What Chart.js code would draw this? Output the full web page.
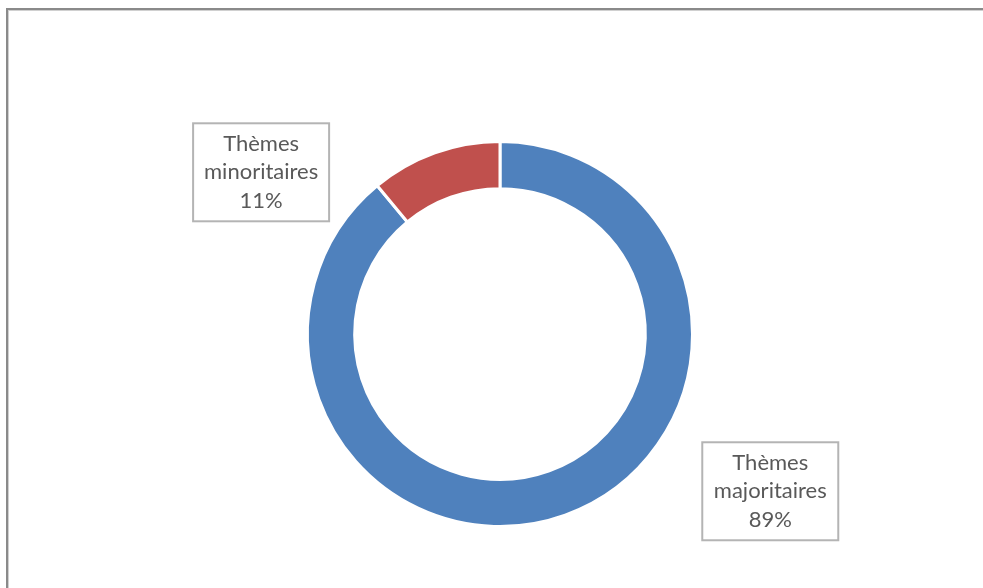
<!DOCTYPE html>
<html lang="fr">
<head>
    <meta charset="UTF-8">
    <title>Thèmes</title>
    <script src="https://cdn.jsdelivr.net/npm/chart.js"></script>
    <style>
        html, body {
            margin: 0;
            padding: 0;
            background: #ffffff;
            overflow: hidden;
        }
        .frame {
            position: absolute;
            left: 6px;
            top: 8px;
            width: 990px;
            height: 578px;
            border-top: 2px solid #8a8a8a;
            border-left: 2px solid #8a8a8a;
            border-bottom: 1px solid #e2e2e2;
            box-shadow: inset 1px 1px 0 #d0d0d0;
        }
        .chart-box {
            position: absolute;
            left: 0;
            top: 0;
            width: 983px;
            height: 588px;
        }
    </style>
</head>
<body>
    <div class="frame"></div>
    <div class="chart-box">
        <canvas id="donut"></canvas>
    </div>

    <script>
        // Données
        const categories = ['Thèmes majoritaires', 'Thèmes minoritaires'];
        const values = [89, 11];
        const colors = ['#4f81bd', '#c0504d'];

        // Etiquettes encadrées (position relative au centre, en rayons)
        const labelBoxes = {
            id: 'labelBoxes',
            afterDatasetsDraw(chart, args, opts) {
                const ctx = chart.ctx;
                const meta = chart.getDatasetMeta(0);
                meta.data.forEach((arc, i) => {
                    const r = arc.outerRadius;
                    const cx = arc.x + opts.offsets[i][0] * r;
                    const cy = arc.y + opts.offsets[i][1] * r;
                    const lines = categories[i].split(' ').concat([values[i] + '%']);
                    const w = opts.width, h = opts.height;
                    ctx.save();
                    ctx.fillStyle = '#ffffff';
                    ctx.fillRect(cx - w / 2, cy - h / 2, w, h);
                    ctx.strokeStyle = '#b4b4b4';
                    ctx.lineWidth = 2;
                    ctx.strokeRect(cx - w / 2, cy - h / 2, w, h);
                    ctx.fillStyle = '#595959';
                    ctx.font = opts.font;
                    ctx.textAlign = 'center';
                    ctx.textBaseline = 'middle';
                    lines.forEach((t, k) => {
                        ctx.fillText(t, cx, cy + (k - 1) * opts.lineHeight);
                    });
                    ctx.restore();
                });
            }
        };

        new Chart(document.getElementById('donut'), {
            type: 'doughnut',
            data: {
                labels: categories,
                datasets: [{
                    data: values,
                    backgroundColor: colors,
                    borderColor: '#ffffff',
                    borderWidth: 3,
                    hoverOffset: 0
                }]
            },
            options: {
                responsive: true,
                maintainAspectRatio: false,
                animation: false,
                cutout: '75.5%',
                layout: {
                    padding: { left: 306, right: 289, top: 140, bottom: 60 }
                },
                plugins: {
                    legend: { display: false },
                    tooltip: { enabled: false },
                    labelBoxes: {
                        offsets: [[1.404, 0.817], [-1.241, -0.840]],
                        width: 136,
                        height: 98,
                        lineHeight: 28.5,
                        font: '22px Lato'
                    }
                }
            },
            plugins: [labelBoxes]
        });
    </script>
</body>
</html>
